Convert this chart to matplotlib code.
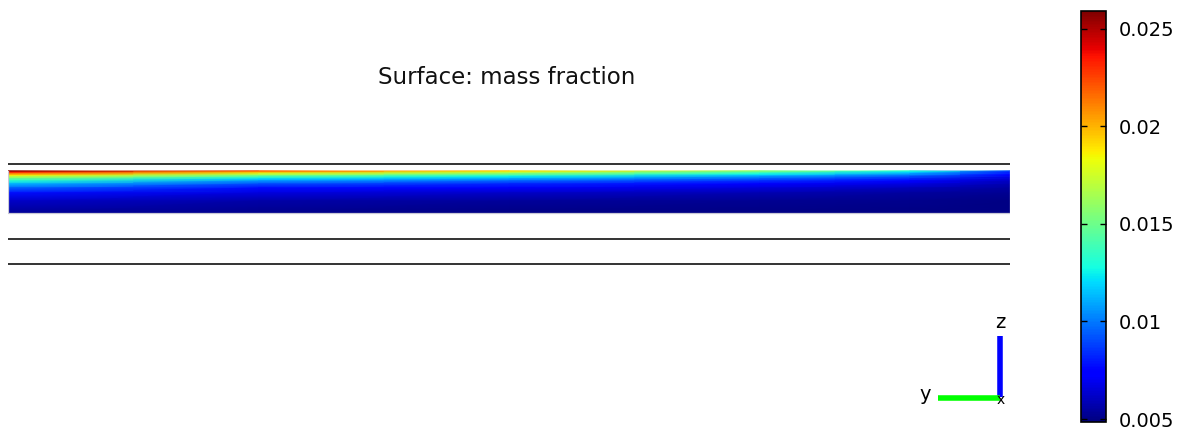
import numpy as np
import matplotlib
matplotlib.use("Agg")
import matplotlib.pyplot as plt
from matplotlib.colors import Normalize

# Geometry of the cross-section (z levels of the boundary lines, normalised units)
layer_lines_z = [0.0, 0.25, 1.0]
band_bottom_z = 0.51
band_top_z = 0.93

# Stations along the channel (normalised length) and depth below the band top
stations = [0.0, 0.25, 0.5, 0.75, 0.9, 1.0]
depths = [0.0, 0.015, 0.03, 0.045, 0.06, 0.08, 0.10, 0.13, 0.17, 0.22, 0.30, 0.42]

# Mass fraction profiles at each station (top of band downwards)
mf_y000 = [0.0258, 0.0235, 0.0210, 0.0188, 0.0168, 0.0148, 0.0132, 0.0113, 0.0095, 0.0078, 0.0062, 0.0053]
mf_y025 = [0.0220, 0.0198, 0.0175, 0.0155, 0.0138, 0.0120, 0.0106, 0.0091, 0.0077, 0.0066, 0.0056, 0.0051]
mf_y050 = [0.0192, 0.0172, 0.0153, 0.0137, 0.0123, 0.0108, 0.0096, 0.0083, 0.0071, 0.0062, 0.0054, 0.0050]
mf_y075 = [0.0158, 0.0142, 0.0128, 0.0115, 0.0104, 0.0093, 0.0084, 0.0074, 0.0065, 0.0058, 0.0052, 0.0050]
mf_y090 = [0.0132, 0.0120, 0.0108, 0.0098, 0.0090, 0.0082, 0.0075, 0.0067, 0.0060, 0.0055, 0.0051, 0.0050]
mf_y100 = [0.0088, 0.0082, 0.0077, 0.0072, 0.0068, 0.0064, 0.0061, 0.0058, 0.0055, 0.0052, 0.0050, 0.0050]

cbar_min, cbar_max = 0.00485, 0.0259
cbar_ticks = [0.005, 0.01, 0.015, 0.02, 0.025]
cbar_labels = ["0.005", "0.01", "0.015", "0.02", "0.025"]

W, H = 1183, 432
fig = plt.figure(figsize=(W / 100, H / 100), dpi=100)

def px_axes(x0, y0, x1, y1):
    return fig.add_axes([x0 / W, 1 - y1 / H, (x1 - x0) / W, (y1 - y0) / H])

# Main plot area
ax = px_axes(8, 150, 1010, 280)
ax.set_xlim(0, 1)
ax.set_ylim(-0.16, 1.14)
ax.axis("off")

field = np.array([mf_y000, mf_y025, mf_y050, mf_y075, mf_y090, mf_y100]).T
X, D = np.meshgrid(stations, depths)
Z = band_top_z - D
norm = Normalize(vmin=cbar_min, vmax=cbar_max)
mesh = ax.pcolormesh(X, Z, field, shading="gouraud", cmap="jet", norm=norm, zorder=2)

# Faint domain edges on the sides and bottom
ax.plot([0, 0, 1, 1], [band_top_z, band_bottom_z, band_bottom_z, band_top_z],
        color="#c8c8d6", lw=0.9, zorder=3)

for z in layer_lines_z:
    ax.plot([0, 1], [z, z], color="#333333", lw=1.4, solid_capstyle="butt")

fig.text(507 / W, 1 - 77 / H, "Surface: mass fraction", ha="center", va="center",
         fontsize=16.5, color="#111111")

# Colour bar
cax = px_axes(1081, 11, 1106, 422)
cb = fig.colorbar(mesh, cax=cax, ticks=cbar_ticks)
cb.ax.set_yticklabels(cbar_labels)
cb.ax.tick_params(direction="in", length=4, width=1, left=True, right=True,
                  labelsize=14, pad=9, colors="black")
cb.outline.set_linewidth(1.2)
cb.outline.set_edgecolor("black")

# Coordinate triad
tax = px_axes(900, 300, 1030, 420)
tax.set_xlim(900, 1030)
tax.set_ylim(420, 300)
tax.axis("off")
tax.plot([1000, 1000], [397, 336], color="#0000ff", lw=4, solid_capstyle="butt")
tax.plot([938, 1000], [398, 398], color="#00ff00", lw=4, solid_capstyle="butt")
tax.text(1000, 322, "z", ha="center", va="center", fontsize=14)
tax.text(925, 395, "y", ha="center", va="center", fontsize=14)
tax.text(1001, 400, "x", ha="center", va="center", fontsize=10)

fig.savefig("out.png", dpi=100)
